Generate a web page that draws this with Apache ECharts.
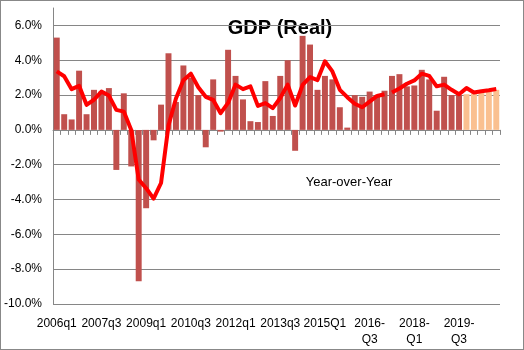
<!DOCTYPE html>
<html>
<head>
<meta charset="utf-8">
<script src="https://cdn.jsdelivr.net/npm/echarts@6/dist/echarts.min.js"></script>
<style>
  html, body { margin: 0; padding: 0; background: #fff; }
  #chart { width: 524px; height: 350px; box-sizing: border-box; border: 1px solid #888; }
</style>
</head>
<body>
<div id="chart"></div>
<script>
// quarter labels, as they come from the source sheet (mixed formats)
const quarters = [
  '2006q1','2006q2','2006q3','2006q4', '2007q1','2007q2','2007q3','2007q4',
  '2008q1','2008q2','2008q3','2008q4', '2009q1','2009q2','2009q3','2009q4',
  '2010q1','2010q2','2010q3','2010q4', '2011q1','2011q2','2011q3','2011q4',
  '2012q1','2012q2','2012q3','2012q4', '2013q1','2013q2','2013q3','2013q4',
  '2014q1','2014q2','2014q3','2014q4', '2015Q1','2015Q2','2015Q3','2015Q4',
  '2016-Q1','2016-Q2','2016-Q3','2016-Q4', '2017-Q1','2017-Q2','2017-Q3','2017-Q4',
  '2018-Q1','2018-Q2','2018-Q3','2018-Q4', '2019-Q1','2019-Q2','2019-Q3','2019-Q4',
  '2020-Q1','2020-Q2','2020-Q3','2020-Q4'
];
// quarterly growth, annualized (%)
const gdpQoQ = [
  5.3, 0.9, 0.6, 3.4, 0.9, 2.3, 2.2, 2.4,
  -2.3, 2.1, -2.1, -8.7, -4.5, -0.6, 1.45, 4.4,
  1.6, 3.7, 3.0, 2.0, -1.0, 2.9, -0.1, 4.6,
  3.1, 1.75, 0.5, 0.45, 2.8, 0.8, 3.1, 4.0,
  -1.2, 5.4, 4.9, 2.3, 3.1, 2.9, 1.3, 0.13,
  2.0, 1.9, 2.2, 2.0, 2.25, 3.1, 3.2, 2.5,
  2.55, 3.45, 2.9, 1.1, 3.05, 2.0, 2.0, 2.05,
  2.1, 2.15, 2.2, 2.3
];
// year-over-year growth (%)
const gdpYoY = [
  3.36, 3.08, 2.34, 2.53, 1.44, 1.73, 2.2, 1.97,
  1.15, 1.05, 0.0, -2.85, -3.35, -3.95, -3.05, 0.25,
  1.8, 2.85, 3.23, 2.45, 1.9, 1.72, 0.96, 1.55,
  2.6, 2.34, 2.5, 1.38, 1.54, 1.25, 1.83, 2.6,
  1.4, 2.58, 3.03, 2.86, 3.94, 3.36, 2.3, 1.88,
  1.5, 1.3, 1.62, 1.95, 2.05, 2.15, 2.38, 2.65,
  2.84, 3.23, 3.1, 2.5, 2.6, 2.3, 2.05, 2.4,
  2.15, 2.22, 2.28, 2.35
];
const forecastStart = 55;   // first forecast quarter (2019-Q4)
const yoyBreak = 45;        // line is drawn in two pieces, split here

const chart = echarts.init(document.getElementById('chart'));

const barData = gdpQoQ.map((v, i) => ({
  value: v,
  itemStyle: { color: i >= forecastStart ? '#FAC090' : '#C0504D' }
}));
const yoyA = gdpYoY.map((v, i) => (i < yoyBreak ? v : null));
const yoyB = gdpYoY.map((v, i) => (i >= yoyBreak ? v : null));

const font = 'Liberation Sans, Arial, sans-serif';

const option = {
  animation: false,
  grid: { left: 51, right: 23, top: 7, bottom: 45 },
  xAxis: [
    {
      type: 'category',
      data: quarters,
      axisLine: { onZero: true, lineStyle: { color: '#868686' } },
      axisTick: { show: true, interval: 0, length: 5, lineStyle: { color: '#868686' } },
      axisLabel: { show: false }
    },
    {
      type: 'category',
      data: quarters,
      position: 'bottom',
      axisLine: { show: false, onZero: false },
      axisTick: { show: false },
      axisLabel: {
        interval: 5,
        margin: 12,
        color: '#000',
        fontSize: 12,
        fontFamily: font,
        lineHeight: 16,
        formatter: v => v.replace('-', '-\n')
      }
    }
  ],
  yAxis: {
    type: 'value',
    min: -10,
    max: 7,
    interval: 2,
    axisLine: { show: true, lineStyle: { color: '#868686' } },
    axisTick: { show: false },
    splitLine: { show: true, showMaxLine: false, lineStyle: { color: '#868686' } },
    axisLabel: {
      margin: 11,
      color: '#000',
      fontSize: 12,
      fontFamily: font,
      formatter: v => (v > 6 ? '' : v.toFixed(1) + '%')
    }
  },
  graphic: [
    {
      type: 'text', x: 279, y: 27,
      style: {
        text: 'GDP (Real)', fill: '#000', fontSize: 20, fontWeight: 'bold',
        fontFamily: font, align: 'center', verticalAlign: 'middle'
      }
    },
    {
      type: 'text', x: 348, y: 181,
      style: {
        text: 'Year-over-Year', fill: '#000', fontSize: 13,
        fontFamily: font, align: 'center', verticalAlign: 'middle'
      }
    }
  ],
  series: [
    {
      type: 'bar',
      data: barData,
      barCategoryGap: '20%'
    },
    {
      type: 'line',
      data: yoyA,
      symbol: 'none',
      lineStyle: { color: '#FF0000', width: 4, join: 'round' },
      z: 5
    },
    {
      type: 'line',
      data: yoyB,
      symbol: 'none',
      lineStyle: { color: '#FF0000', width: 4, join: 'round' },
      z: 5
    }
  ]
};

chart.setOption(option);
</script>
</body>
</html>
